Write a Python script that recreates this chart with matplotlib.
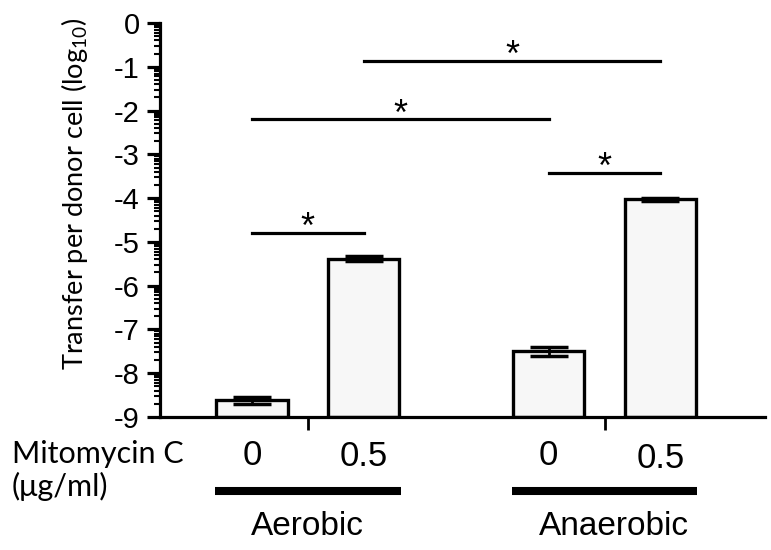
import numpy as np
import matplotlib
matplotlib.use("Agg")
import matplotlib.pyplot as plt
import matplotlib.transforms as mtransforms

plt.rcParams['axes.unicode_minus'] = False
plt.rcParams['mathtext.fontset'] = 'custom'
plt.rcParams['mathtext.rm'] = 'Lato'

# Data (log10 transfer per donor cell)
conditions = ['Aerobic', 'Anaerobic']
doses = ['0', '0.5', '0', '0.5']
means = [-8.62, -5.38, -7.50, -4.03]
errors = [0.08, 0.05, 0.11, 0.04]
# significance pairs (bar index a, bar index b, line height)
sig_pairs = [(0, 1), (2, 3), (0, 2), (1, 3)]
sig_heights = [-4.79, -3.42, -2.20, -0.87]

x = np.array([0, 1, 2.66, 3.66])
width = 0.64
baseline = -9

fig = plt.figure(figsize=(7.71, 5.5), dpi=100)
ax = fig.add_axes([0.2075, 0.2418, 0.785, 0.7164])

ax.bar(x, np.array(means) - baseline, bottom=baseline, width=width,
       color='#f7f7f7', edgecolor='black', linewidth=2.4, zorder=2)
ax.errorbar(x, means, yerr=errors, fmt='none', ecolor='black',
            elinewidth=2, capsize=13.5, capthick=2.5, zorder=3)

# significance lines with asterisks
for (a, b), h in zip(sig_pairs, sig_heights):
    ax.plot([x[a], x[b]], [h, h], color='black', lw=2.3, clip_on=False)
    ax.text((x[a] + x[b]) / 2, h - 0.12, '*', ha='center', va='baseline',
            fontsize=26, family='Liberation Sans')

ax.set_xlim(-0.825, 4.60)
ax.set_ylim(-9, 0)

ax.spines['top'].set_visible(False)
ax.spines['right'].set_visible(False)
ax.spines['left'].set_linewidth(2.3)
ax.spines['bottom'].set_linewidth(2.3)

yt = np.arange(-9, 1)
ax.set_yticks(yt)
ax.set_yticklabels([str(v) for v in yt], family='Liberation Sans', fontsize=21)
minor = [n + np.log10(k) for n in range(-9, 0) for k in range(2, 10)]
ax.set_yticks(minor, minor=True)
ax.tick_params(axis='y', which='major', length=9.5, width=2.3, pad=5)
ax.tick_params(axis='y', which='minor', length=4.5, width=1.5)

# group separator ticks on x axis
ax.set_xticks([(x[0] + x[1]) / 2, (x[2] + x[3]) / 2])
ax.set_xticklabels([])
ax.tick_params(axis='x', length=9, width=2)

trans = mtransforms.blended_transform_factory(ax.transData, ax.transAxes)
dose_y = [-0.1218, -0.124, -0.1218, -0.129]
for xi, d, yy in zip(x, doses, dose_y):
    ax.text(xi, yy, d, transform=trans, ha='center', va='baseline',
            fontsize=25, family='Liberation Sans', clip_on=False)

half = width / 2 + 0.012
label_x = [0.50, 3.24]
for i, cond in enumerate(conditions):
    x0, x1 = x[2 * i] - half, x[2 * i + 1] + half
    ax.plot([x0, x1], [-0.188, -0.188], transform=trans, color='black',
            lw=5.8, solid_capstyle='butt', clip_on=False)
    ax.text(label_x[i], -0.2995, cond, transform=trans, ha='center',
            va='baseline', fontsize=24, family='Liberation Sans')

fig.text(0.0156, 0.158, 'Mitomycin C', fontsize=22, family='Lato',
         ha='left', va='baseline')
fig.text(0.0156, 0.098, '(\u03bcg/ml)', fontsize=22, family='Lato',
         ha='left', va='baseline')

fig.text(0.097, 0.648, 'Transfer per donor cell (log$_{10}$)', rotation=90,
         fontsize=19.5, family='Lato', ha='center', va='center')

fig.savefig('out.png', dpi=100)
